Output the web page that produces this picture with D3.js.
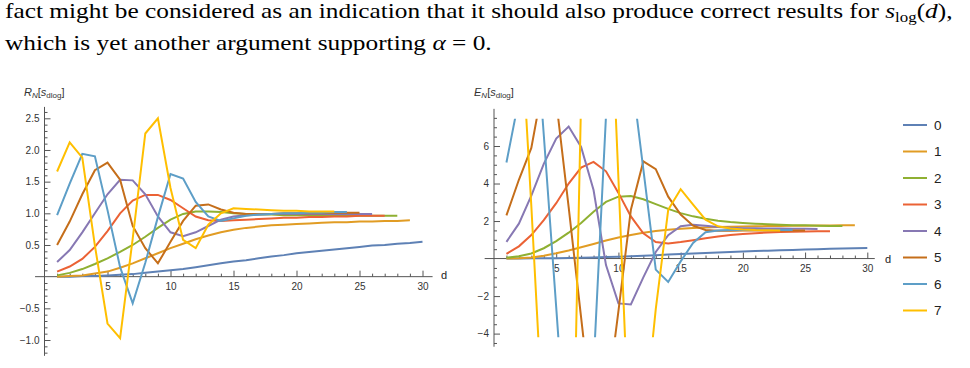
<!DOCTYPE html>
<html>
<head>
<meta charset="utf-8">
<title>R_N and E_N of s_dlog</title>
<style>
    body { margin: 0; background: white; }
    svg { display: block; background: white; }
    .para { font-family: "Liberation Serif", "DejaVu Serif", serif; font-size: 21px; fill: #000; }
    .tick text { font-family: "Liberation Sans", Arial, sans-serif; font-size: 10px; fill: #333; }
    .tick line { stroke: #555; }
    .axisline { stroke: #555; stroke-width: 1; }
    .series { fill: none; stroke-width: 2; stroke-linejoin: miter; stroke-miterlimit: 4; }
    .lbl { font-family: "Liberation Sans", Arial, sans-serif; font-size: 11px; fill: #333; }
    .dlbl { font-family: "Liberation Sans", Arial, sans-serif; font-size: 11px; fill: #222; }
    .legend text { font-family: "Liberation Sans", Arial, sans-serif; font-size: 13.5px; fill: #222; }
</style>
</head>
<body>
<svg width="970" height="368"></svg>
<script src="https://cdn.jsdelivr.net/npm/d3@7"></script>
<script>
    // d runs 1..30, series n has 30-n points
    const dVals = [1, 2, 3, 4, 5, 6, 7, 8, 9, 10, 11, 12, 13, 14, 15, 16, 17, 18, 19, 20, 21, 22, 23, 24, 25, 26, 27, 28, 29, 30];
    const seriesNames = ["0", "1", "2", "3", "4", "5", "6", "7"];
    const colors = ["#5E81B5", "#E19C24", "#8FB032", "#EB6235", "#8778B3", "#C56E1A", "#5D9EC7", "#FFBF00"];

    // R_N[s_dlog]
    const r0 = [0.00, 0.00, 0.01, 0.01, 0.02, 0.03, 0.04, 0.06, 0.08, 0.10, 0.12, 0.15, 0.18, 0.21, 0.24, 0.26, 0.29, 0.32, 0.34, 0.37, 0.39, 0.41, 0.43, 0.45, 0.47, 0.49, 0.50, 0.52, 0.53, 0.55];
    const r1 = [0.00, 0.01, 0.02, 0.05, 0.08, 0.14, 0.21, 0.29, 0.37, 0.45, 0.52, 0.59, 0.65, 0.70, 0.74, 0.77, 0.79, 0.81, 0.82, 0.83, 0.84, 0.85, 0.86, 0.86, 0.87, 0.87, 0.88, 0.88, 0.89];
    const r2 = [0.02, 0.06, 0.12, 0.20, 0.29, 0.39, 0.50, 0.63, 0.77, 0.90, 0.99, 1.03, 1.03, 1.02, 1.00, 0.99, 0.98, 0.98, 0.97, 0.97, 0.97, 0.96, 0.96, 0.96, 0.96, 0.96, 0.96, 0.96];
    const r3 = [0.08, 0.16, 0.28, 0.47, 0.72, 1.00, 1.20, 1.29, 1.29, 1.21, 1.08, 0.95, 0.89, 0.88, 0.89, 0.90, 0.91, 0.92, 0.93, 0.93, 0.94, 0.94, 0.95, 0.95, 0.96, 0.96, 0.96];
    const r4 = [0.23, 0.42, 0.70, 1.00, 1.30, 1.53, 1.52, 1.30, 0.95, 0.70, 0.64, 0.70, 0.80, 0.90, 0.95, 0.97, 0.98, 0.99, 0.99, 0.99, 0.99, 0.99, 0.99, 0.99, 0.99, 0.99];
    const r5 = [0.50, 0.87, 1.30, 1.68, 1.80, 1.53, 0.80, 0.45, 0.21, 0.55, 0.88, 1.12, 1.14, 1.06, 1.01, 0.99, 0.99, 0.99, 1.00, 1.00, 1.00, 1.00, 1.01, 1.01, 1.01];
    const r6 = [0.97, 1.47, 1.94, 1.90, 1.05, 0.15, -0.42, 0.22, 0.94, 1.62, 1.55, 1.18, 0.95, 0.88, 0.92, 0.96, 0.98, 0.99, 1.00, 1.00, 1.01, 1.01, 1.02, 1.02];
    const r7 = [1.66, 2.12, 1.88, 0.49, -0.74, -0.97, 0.60, 2.26, 2.50, 1.40, 0.58, 0.45, 0.82, 1.00, 1.08, 1.07, 1.06, 1.05, 1.04, 1.04, 1.03, 1.03, 1.03];

    // E_N[s_dlog]
    const e0 = [0.00, 0.00, 0.01, 0.01, 0.02, 0.03, 0.04, 0.06, 0.08, 0.10, 0.12, 0.15, 0.18, 0.21, 0.24, 0.27, 0.30, 0.32, 0.35, 0.38, 0.40, 0.42, 0.44, 0.46, 0.48, 0.50, 0.52, 0.53, 0.55, 0.56];
    const e1 = [0.00, 0.02, 0.06, 0.15, 0.28, 0.43, 0.60, 0.78, 0.96, 1.12, 1.26, 1.38, 1.47, 1.54, 1.59, 1.63, 1.66, 1.68, 1.70, 1.71, 1.72, 1.73, 1.74, 1.75, 1.75, 1.76, 1.76, 1.77, 1.77];
    const e2 = [0.04, 0.12, 0.27, 0.55, 0.93, 1.38, 1.90, 2.50, 3.02, 3.30, 3.33, 3.16, 2.90, 2.65, 2.42, 2.25, 2.12, 2.02, 1.95, 1.90, 1.86, 1.83, 1.80, 1.78, 1.77, 1.75, 1.74, 1.73];
    const e3 = [0.25, 0.65, 1.25, 2.05, 2.95, 4.00, 4.85, 5.15, 4.65, 3.50, 2.25, 1.35, 0.88, 0.80, 0.88, 0.98, 1.08, 1.17, 1.25, 1.31, 1.35, 1.39, 1.41, 1.43, 1.44, 1.45, 1.45];
    const e4 = [0.89, 1.86, 3.35, 5.05, 6.40, 7.04, 5.95, 3.65, -0.35, -2.39, -2.45, -1.00, 0.35, 1.25, 1.72, 1.80, 1.75, 1.68, 1.64, 1.62, 1.61, 1.60, 1.60, 1.59, 1.59, 1.58];
    const e5 = [2.30, 4.20, 5.90, 9.50, 8.40, 2.74, -3.14, -9.00, -8.00, -2.80, 2.60, 5.18, 4.77, 3.30, 2.35, 1.75, 1.52, 1.48, 1.48, 1.49, 1.49, 1.50, 1.50, 1.50, 1.50];
    const e6 = [5.12, 8.50, 15.6, 6.60, -2.60, -12.0, -14.0, -5.80, 7.60, 12.0, 10.1, 4.77, -0.59, -1.25, -0.15, 0.83, 1.40, 1.50, 1.52, 1.52, 1.52, 1.52, 1.52, 1.52];
    const e7 = [12.0, 14.4, 2.80, -9.70, -18.0, -22.5, 8.50, 14.0, 20.0, 4.25, -11.7, -9.20, -2.70, 2.60, 3.70, 2.87, 2.07, 1.72, 1.60, 1.55, 1.52, 1.51, 1.50];

    const xMajor = [5, 10, 15, 20, 25, 30];
    const rTicks = [-1.0, -0.5, 0.5, 1.0, 1.5, 2.0, 2.5];
    const eTicks = [-4, -2, 2, 4, 6];

    const svg = d3.select("svg");

    // ---- paragraph text above the figure ----
    const para = svg.append("g").attr("class", "para");

    function textLine(y, parts) {
        const t = para.append("text").attr("x", 0).attr("y", y);
        parts.forEach(p => {
            const s = t.append("tspan").text(p.t);
            if (p.i) s.attr("font-style", "italic");
            if (p.sub) s.attr("font-size", "14px").attr("dy", 4);
            if (p.up) s.attr("dy", -4);
        });
        return t;
    }

    const line1 = textLine(18, [
        { t: "fact might be considered as an indication that it should also produce correct results for " },
        { t: "s", i: true },
        { t: "log", sub: true },
        { t: "(", up: true },
        { t: "d", i: true },
        { t: ")," }
    ]);
    const line2 = textLine(50, [
        { t: "which is yet another argument supporting " },
        { t: "α", i: true },
        { t: " = 0." }
    ]);
    // the first line is justified to the text width; both lines share its scale
    const paraScale = (953 - 5) / line1.node().getComputedTextLength();
    line1.attr("transform", `translate(5,0) scale(${paraScale},1)`);
    line2.attr("transform", `translate(5,0) scale(${paraScale},1)`);

    // ---- one plot panel ----
    function axisLabel(x, y, head) {
        const t = svg.append("text").attr("class", "lbl").attr("x", x).attr("y", y);
        t.append("tspan").attr("font-style", "italic").text(head);
        t.append("tspan").attr("font-style", "italic").attr("font-size", "8px").attr("dy", 2).text("N");
        t.append("tspan").attr("dy", -2).text("[");
        t.append("tspan").attr("font-style", "italic").text("s");
        t.append("tspan").attr("font-size", "8px").attr("dy", 2).text("dlog");
        t.append("tspan").attr("dy", -2).text("]");
    }

    function drawPanel(cfg) {
        const x = cfg.x, y = cfg.y;
        const g = svg.append("g");

        // minor ticks
        g.append("g")
            .attr("transform", `translate(0,${y(0)})`)
            .call(d3.axisBottom(x).tickValues(dVals.filter(v => v % 5 !== 0)).tickSize(-3).tickFormat(""))
            .call(a => a.select(".domain").remove());
        g.append("g")
            .attr("transform", `translate(${x(0)},0)`)
            .call(d3.axisLeft(y).tickValues(cfg.yMinor).tickSize(-3).tickFormat(""))
            .call(a => a.select(".domain").remove());

        // major ticks with labels
        g.append("g")
            .attr("transform", `translate(0,${y(0)})`)
            .call(d3.axisBottom(x).tickValues(xMajor).tickSizeInner(-6).tickSizeOuter(0).tickPadding(6))
            .call(a => a.select(".domain").remove());
        g.append("g")
            .attr("transform", `translate(${x(0)},0)`)
            .call(d3.axisLeft(y).tickValues(cfg.yTicks).tickSizeInner(-6).tickSizeOuter(0).tickPadding(5).tickFormat(cfg.fmt))
            .call(a => a.select(".domain").remove());

        // axis lines
        g.append("line").attr("class", "axisline")
            .attr("x1", x(cfg.xExt[0])).attr("x2", x(cfg.xExt[1]))
            .attr("y1", y(0)).attr("y2", y(0));
        g.append("line").attr("class", "axisline")
            .attr("x1", x(0)).attr("x2", x(0))
            .attr("y1", y(cfg.yExt[0])).attr("y2", y(cfg.yExt[1]));

        // series, clipped to the plot range
        const clipId = "clip-" + cfg.name;
        svg.append("clipPath").attr("id", clipId)
            .append("rect")
            .attr("x", x(cfg.xExt[0])).attr("width", x(cfg.xExt[1]) - x(cfg.xExt[0]))
            .attr("y", y(cfg.clip[1])).attr("height", y(cfg.clip[0]) - y(cfg.clip[1]));

        const line = d3.line()
            .x((v, i) => x(dVals[i]))
            .y(v => y(v));

        g.append("g").attr("clip-path", `url(#${clipId})`)
            .selectAll("path")
            .data(cfg.series)
            .enter().append("path")
            .attr("class", "series")
            .attr("stroke", (s, i) => colors[i])
            .attr("d", s => line(s));

        g.append("text").attr("class", "dlbl")
            .attr("x", cfg.dPos[0]).attr("y", cfg.dPos[1])
            .text("d");

        axisLabel(cfg.labelPos[0], cfg.labelPos[1], cfg.head);
    }

    const rMinor = d3.range(-12, 27).map(v => v / 10).filter(v => Math.abs(v * 2 - Math.round(v * 2)) > 1e-9);
    const eMinor = [-4.5, -3.5, -3, -2.5, -1.5, -1, -0.5, 0.5, 1, 1.5, 2.5, 3, 3.5, 4.5, 5, 5.5, 6.5, 7, 7.5];

    drawPanel({
        name: "r",
        x: d3.scaleLinear().domain([0, 30]).range([44.5, 422.5]),
        y: d3.scaleLinear().domain([-1, 2.5]).range([340, 118.3]),
        xExt: [-0.75, 30.8],
        yExt: [-1.25, 2.68],
        clip: [-1.25, 2.68],
        yTicks: rTicks,
        yMinor: rMinor,
        fmt: d3.format(".1f"),
        series: [r0, r1, r2, r3, r4, r5, r6, r7],
        dPos: [441, 279],
        labelPos: [24, 96],
        head: "R"
    });

    drawPanel({
        name: "e",
        x: d3.scaleLinear().domain([0, 30]).range([494, 867.3]),
        y: d3.scaleLinear().domain([-4, 6]).range([333.6, 146.0]),
        xExt: [-0.75, 30.6],
        yExt: [-4.7, 7.98],
        clip: [-4.2, 7.45],
        yTicks: eTicks,
        yMinor: eMinor,
        fmt: d3.format("d"),
        series: [e0, e1, e2, e3, e4, e5, e6, e7],
        dPos: [885, 263],
        labelPos: [474, 96],
        head: "E"
    });

    // ---- legend ----
    const ly = d3.scalePoint().domain(seriesNames).range([125, 310.5]);
    const legend = svg.append("g").attr("class", "legend");
    const item = legend.selectAll("g")
        .data(seriesNames)
        .enter().append("g")
        .attr("transform", d => `translate(0,${ly(d)})`);
    item.append("line")
        .attr("x1", 903).attr("x2", 927)
        .attr("stroke", (d, i) => colors[i])
        .attr("stroke-width", 2);
    item.append("text")
        .attr("x", 934).attr("dy", "0.36em")
        .text(d => d);
</script>
</body>
</html>
